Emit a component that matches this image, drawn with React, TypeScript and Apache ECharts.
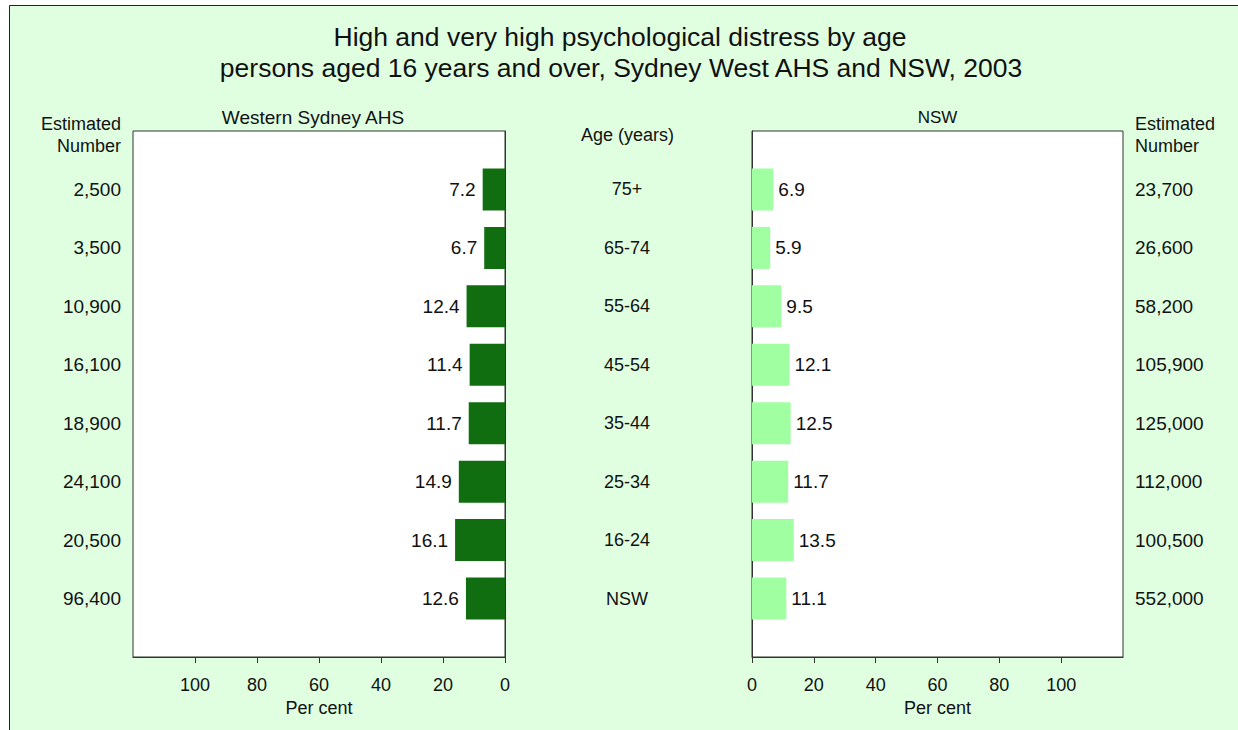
import React, { useEffect, useRef } from "react";
import * as echarts from "echarts";

const categories = ["75+", "65-74", "55-64", "45-54", "35-44", "25-34", "16-24", "NSW"];
const wsValues = [7.2, 6.7, 12.4, 11.4, 11.7, 14.9, 16.1, 12.6];
const nswValues = [6.9, 5.9, 9.5, 12.1, 12.5, 11.7, 13.5, 11.1];
const wsNumbers = ["2,500", "3,500", "10,900", "16,100", "18,900", "24,100", "20,500", "96,400"];
const nswNumbers = ["23,700", "26,600", "58,200", "105,900", "125,000", "112,000", "100,500", "552,000"];
const tickValues = [0, 20, 40, 60, 80, 100];

const FONT = "'Liberation Sans', Arial, sans-serif";
const DARK = "#106e10";
const LIGHT = "#a0ffa0";
const AXIS = "#333";
const TXT = "#111";

export default function App() {
  const ref = useRef<HTMLDivElement>(null);
  useEffect(() => {
    if (!ref.current) return;
    const chart = echarts.init(ref.current, undefined, { renderer: "svg" });
    const axisCats = [" ", ...categories, "  "];
    const wsAxisLabels = ["", ...wsNumbers, ""];
    const nswAxisLabels = ["", ...nswNumbers, ""];
    const ageLabels = ["", ...categories, ""];

    const xAxisCommon = (gridIndex: number, inverse: boolean) => ({
      gridIndex,
      type: "value",
      min: 0,
      max: 120,
      interval: 20,
      inverse,
      axisLine: { show: true, lineStyle: { color: AXIS, width: 1 } },
      axisTick: { show: true, length: 6, customValues: tickValues, lineStyle: { color: AXIS } },
      axisLabel: { customValues: tickValues, margin: 19, fontSize: 18, color: TXT, fontFamily: FONT },
      splitLine: { show: false },
      name: "Per cent",
      nameLocation: "middle",
      nameGap: 38,
      nameTextStyle: { fontSize: 18, color: TXT, fontFamily: FONT },
    });

    const yAxisCommon = (gridIndex: number, position: string, labels: string[], align: string, margin: number, showLine: boolean, fontSize: number) => ({
      gridIndex,
      type: "category",
      data: axisCats,
      inverse: true,
      boundaryGap: false,
      position,
      axisLine: { show: showLine, lineStyle: { color: AXIS } },
      axisTick: { show: false },
      splitLine: { show: false },
      axisLabel: {
        show: labels.length > 0,
        interval: 0,
        margin,
        align,
        fontSize,
        color: TXT,
        fontFamily: FONT,
        padding: [6, 0, 0, 0],
        formatter: (_v: string, i: number) => (labels.length ? labels[i] : ""),
      },
    });

    const textEl = (text: string, x: number, y: number, size: number, align: string, lineHeight?: number) => ({
      type: "text",
      x,
      y,
      style: {
        text,
        fill: TXT,
        font: `${size}px ${FONT}`,
        fontSize: size,
        fontFamily: FONT,
        align,
        verticalAlign: "middle",
        lineHeight: lineHeight || size,
      },
    });

    chart.setOption({
      animation: false,
      backgroundColor: "#e0ffe0",
      textStyle: { fontFamily: FONT },
      grid: [
        { left: 133, top: 131, width: 372, height: 526, show: true, backgroundColor: "#fff", borderColor: AXIS, borderWidth: 1, outerBoundsMode: "none", containLabel: false },
        { left: 752, top: 131, width: 371, height: 526, show: true, backgroundColor: "#fff", borderColor: AXIS, borderWidth: 1, outerBoundsMode: "none", containLabel: false },
      ],
      xAxis: [xAxisCommon(0, true), xAxisCommon(1, false)],
      yAxis: [
        yAxisCommon(0, "left", wsAxisLabels, "right", 12, false, 19),
        yAxisCommon(0, "right", ageLabels, "center", 122, true, 18),
        yAxisCommon(1, "left", [], "left", 8, true, 18),
        yAxisCommon(1, "right", nswAxisLabels, "left", 12, false, 19),
      ],
      series: [
        {
          type: "bar",
          name: "Western Sydney AHS",
          xAxisIndex: 0,
          yAxisIndex: 0,
          barWidth: 42,
          data: ["-", ...wsValues, "-"],
          itemStyle: { color: DARK },
          label: {
            show: true,
            position: "left",
            distance: 7,
            fontSize: 19,
            color: TXT,
            fontFamily: FONT,
            padding: [6, 0, 0, 0],
            formatter: (p: any) => Number(p.value).toFixed(1),
          },
        },
        {
          type: "bar",
          name: "NSW",
          xAxisIndex: 1,
          yAxisIndex: 3,
          barWidth: 42,
          data: ["-", ...nswValues, "-"],
          itemStyle: { color: LIGHT },
          label: {
            show: true,
            position: "right",
            distance: 5,
            fontSize: 19,
            color: TXT,
            fontFamily: FONT,
            padding: [6, 0, 0, 0],
            formatter: (p: any) => Number(p.value).toFixed(1),
          },
        },
      ],
      graphic: [
        { type: "rect", shape: { x: 0, y: 0, width: 9, height: 730 }, style: { fill: "#fff" }, silent: true },
        { type: "rect", shape: { x: 0, y: 0, width: 1238, height: 5 }, style: { fill: "#fff" }, silent: true },
        { type: "line", shape: { x1: 9.5, y1: 5.5, x2: 1238, y2: 5.5 }, style: { stroke: "#222", lineWidth: 1 }, silent: true },
        { type: "line", shape: { x1: 9.5, y1: 5.5, x2: 9.5, y2: 730 }, style: { stroke: "#222", lineWidth: 1 }, silent: true },
        textEl("High and very high psychological distress by age", 620, 37, 26.5, "center"),
        textEl("persons aged 16 years and over, Sydney West AHS and NSW, 2003", 621, 68, 26.5, "center"),
        textEl("Western Sydney AHS", 313, 117, 19, "center"),
        textEl("NSW", 937.5, 117, 17, "center"),
        textEl("Age (years)", 627.5, 135, 18, "center"),
        textEl("Estimated\nNumber", 121, 135, 18, "right", 21.5),
        textEl("Estimated\nNumber", 1135, 135, 18, "left", 21.5),
      ],
    });
    return () => chart.dispose();
  }, []);
  return (
    <div
      ref={ref}
      style={{ position: "absolute", left: 0, top: 0, width: 1238, height: 730, background: "#fff" }}
    />
  );
}
